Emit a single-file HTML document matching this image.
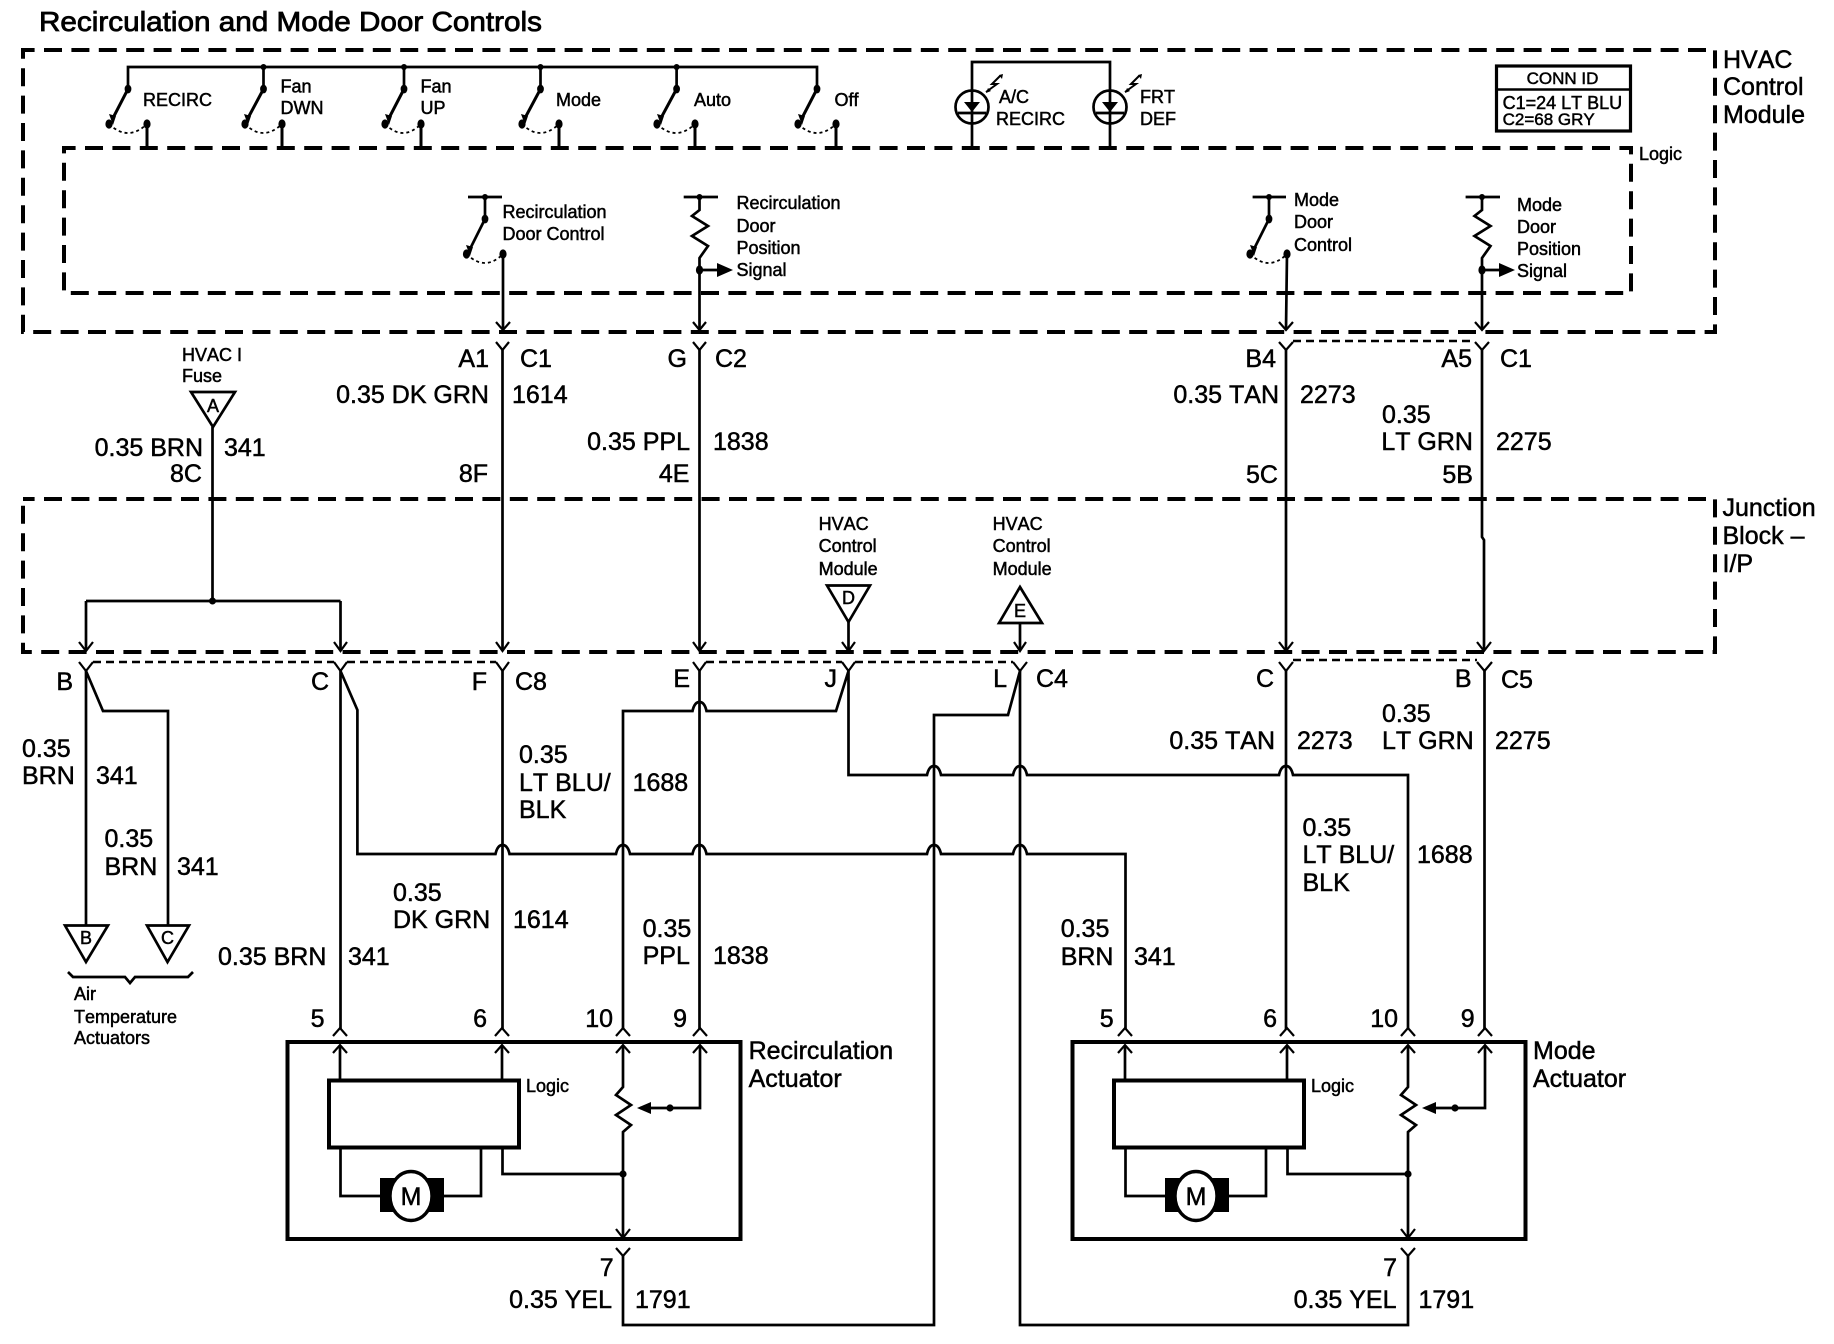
<!DOCTYPE html>
<html><head><meta charset="utf-8"><style>
html,body{margin:0;padding:0;background:#fff}
svg{display:block}
text{font-family:"Liberation Sans",sans-serif;fill:#000;stroke:#000;stroke-width:.5;font-kerning:none}
.t{font-size:25px}.s{font-size:18px}.e{text-anchor:end}.m{text-anchor:middle}
.w{fill:none;stroke:#000;stroke-width:2.7}
.c{fill:none;stroke:#000;stroke-width:2.2}
.d{fill:none;stroke:#000;stroke-width:4;stroke-dasharray:18 9.4;stroke-dashoffset:6.4}
.o{fill:none;stroke:#000;stroke-width:2.6;stroke-dasharray:8 5}
.a{fill:none;stroke:#000;stroke-width:1.8;stroke-dasharray:3 3}
.f{fill:#000;stroke:none}
</style></head><body>
<svg xmlns="http://www.w3.org/2000/svg" width="1834" height="1344" viewBox="0 0 1834 1344">
<rect width="1834" height="1344" fill="#fff" style="stroke:none"/>
<text x="39" y="31" style="font-size:28px;stroke-width:.8" textLength="503" lengthAdjust="spacingAndGlyphs">Recirculation and Mode Door Controls</text>

<!-- dashed boxes -->
<rect class="d" x="23" y="50" width="1692" height="282"/>
<rect class="d" x="64" y="148" width="1567" height="145"/>
<rect class="d" x="23" y="499" width="1692" height="153"/>
<text class="t" x="1723" y="68">HVAC</text><text class="t" x="1723" y="95">Control</text><text class="t" x="1723" y="123">Module</text>
<text class="s" x="1639" y="160">Logic</text>
<text class="t" x="1722.5" y="516">Junction</text><text class="t" x="1722.5" y="544">Block –</text><text class="t" x="1722.5" y="572">I/P</text>

<!-- switch bus -->
<path class="w" d="M128 89V67H817V89M263.5 67V89M404 67V89M540.5 67V89M676.6 67V89"/>
<!-- switches -->
<g id="sw">
<path class="w" style="stroke-width:3" d="M128 89L113 118M147 124V148M282 124V148"/>
<path class="w" style="stroke-width:3" d="M263.5 89L248 118M404 89L389 118M421 124V148M540.5 89L525 118M559 124V148M676.6 89L661 118M695 124V148M817 89L802 118M836 124V148"/>
<path class="f" d="M109 114l7 2-3 9zM244 114l7 2-3 9zM385 114l7 2-3 9zM521 114l7 2-3 9zM657 114l7 2-3 9zM798 114l7 2-3 9z"/>
<path class="a" d="M109 124Q128 142 147 124M245 124Q263 142 282 124M385 124Q403 142 421 124M522 124Q540 142 559 124M657 124Q676 142 695 124M798 124Q817 142 836 124"/>
<g class="f"><ellipse cx="128" cy="89" rx="3.4" ry="4.4"/><ellipse cx="263.5" cy="89" rx="3.4" ry="4.4"/><ellipse cx="404" cy="89" rx="3.4" ry="4.4"/><ellipse cx="540.5" cy="89" rx="3.4" ry="4.4"/><ellipse cx="676.6" cy="89" rx="3.4" ry="4.4"/><ellipse cx="817" cy="89" rx="3.4" ry="4.4"/>
<circle cx="263.5" cy="67" r="3"/><circle cx="404" cy="67" r="3"/><circle cx="540.5" cy="67" r="3"/><circle cx="676.6" cy="67" r="3"/>
<ellipse cx="109" cy="124" rx="3.6" ry="4.6"/><ellipse cx="147" cy="124" rx="3.6" ry="4.6"/><ellipse cx="245" cy="124" rx="3.6" ry="4.6"/><ellipse cx="282" cy="124" rx="3.6" ry="4.6"/><ellipse cx="385" cy="124" rx="3.6" ry="4.6"/><ellipse cx="421" cy="124" rx="3.6" ry="4.6"/><ellipse cx="522" cy="124" rx="3.6" ry="4.6"/><ellipse cx="559" cy="124" rx="3.6" ry="4.6"/><ellipse cx="657" cy="124" rx="3.6" ry="4.6"/><ellipse cx="695" cy="124" rx="3.6" ry="4.6"/><ellipse cx="798" cy="124" rx="3.6" ry="4.6"/><ellipse cx="836" cy="124" rx="3.6" ry="4.6"/></g>
</g>
<text class="s" x="143" y="106">RECIRC</text>
<text class="s" x="280.5" y="92.5">Fan</text><text class="s" x="280.5" y="114">DWN</text>
<text class="s" x="420.5" y="92.5">Fan</text><text class="s" x="420.5" y="114">UP</text>
<text class="s" x="556" y="106">Mode</text><text class="s" x="694" y="106">Auto</text><text class="s" x="834.5" y="106">Off</text>

<!-- LEDs -->
<path class="w" d="M972 148V62H1110V148"/>
<g fill="none" stroke="#000" stroke-width="2.7"><circle cx="972" cy="107" r="16.5"/><circle cx="1110" cy="107" r="16.5"/><path d="M958 113H986M1096 113H1124"/></g>
<path class="f" d="M964 102H980L972 112zM1102 102H1118L1110 112z"/>
<g fill="none" stroke="#000" stroke-width="2"><path d="M1000 76L992 84H997L986 92M1139 76L1131 84H1136L1125 92"/></g>
<path class="f" d="M999 75l4-1-1 5zM1138 75l4-1-1 5zM986 93l2-5 3 3zM1125 93l2-5 3 3z"/>
<text class="s" x="999" y="103">A/C</text><text class="s" x="996" y="125">RECIRC</text>
<text class="s" x="1140" y="103">FRT</text><text class="s" x="1140" y="125">DEF</text>

<!-- conn id -->
<rect x="1496.5" y="66" width="134" height="65" fill="none" stroke="#000" stroke-width="3.2"/>
<path d="M1496 89.5H1631" stroke="#000" stroke-width="2.4"/>
<text class="m" x="1562.5" y="84" style="font-size:17px">CONN ID</text>
<text class="s" x="1502.6" y="109">C1=24 LT BLU</text>
<text x="1502.6" y="125" style="font-size:17px">C2=68 GRY</text>

<!-- logic internals: recirc door control -->
<g id="ctl">
<path class="w" d="M468 197H502M485 197V219L470 249M503 254V329"/>
<path class="a" d="M466.5 254Q485 272 503 254"/>
<path class="f" d="M466 245l7 2-3 9z"/>
<g class="f"><circle cx="485" cy="197" r="3"/><ellipse cx="485" cy="219" rx="3.4" ry="4.4"/><ellipse cx="466.5" cy="254" rx="3.6" ry="4.6"/><ellipse cx="503" cy="254" rx="3.6" ry="4.6"/></g>
<path class="w" d="M1252.6 197H1286M1269 197V219L1254 249M1287 254L1286 329"/>
<path class="a" d="M1250 254Q1269 272 1287 254"/>
<path class="f" d="M1250 245l7 2-3 9z"/>
<g class="f"><circle cx="1269" cy="197" r="3"/><ellipse cx="1269" cy="219" rx="3.4" ry="4.4"/><ellipse cx="1250" cy="254" rx="3.6" ry="4.6"/><ellipse cx="1287" cy="254" rx="3.6" ry="4.6"/></g>
</g>
<text class="s" x="502.5" y="218">Recirculation</text><text class="s" x="502.5" y="240">Door Control</text>
<text class="s" x="1294" y="206">Mode</text><text class="s" x="1294" y="228">Door</text><text class="s" x="1294" y="251">Control</text>
<!-- resistors -->
<path class="w" d="M683.7 197H718M699.5 197V210L692 216L708 226L692 236L708 246L699.5 258V330M699.5 270H718"/>
<path class="f" d="M717 263L733 270L717 277z"/><circle class="f" cx="699.5" cy="197" r="3"/><ellipse class="f" cx="699.5" cy="270" rx="3.6" ry="4.6"/>
<path class="w" d="M1465.6 197H1500M1482 197V210L1474.5 216L1490.5 226L1474.5 236L1490.5 246L1482 258V330M1482 270H1500"/>
<path class="f" d="M1499 263L1515 270L1499 277z"/><circle class="f" cx="1482" cy="197" r="3"/><ellipse class="f" cx="1482" cy="270" rx="3.6" ry="4.6"/>
<text class="s" x="736.5" y="209">Recirculation</text><text class="s" x="736.5" y="232">Door</text><text class="s" x="736.5" y="254">Position</text><text class="s" x="736.5" y="276">Signal</text>
<text class="s" x="1517" y="211">Mode</text><text class="s" x="1517" y="233">Door</text><text class="s" x="1517" y="255">Position</text><text class="s" x="1517" y="277">Signal</text>

<!-- arrow chevrons pointing down -->
<path class="c" d="M496 322L503 330L510 322M693 322L699.5 330L706 322M1279 322L1286 330L1293 322M1475 322L1482 330L1489 322"/>
<path class="c" d="M79 642L86 651L93 642M334 642L340.5 651L347 642M496 642L502.5 651L509 642M693 642L699.5 651L706 642M842 642L848.5 651L855 642M1014 642L1020 651L1026 642M1279 642L1286 651L1293 642M1477 642L1484 651L1491 642"/>
<!-- Y chevrons (upper row) -->
<path class="c" d="M496 342L502.5 350L509 342M693 342L699.5 350L706 342M1279 342L1286 350L1293 342M1475 342L1482 350L1489 342"/>
<path class="o" d="M1293 341H1475"/>
<!-- Y chevrons (lower row) -->
<path class="c" d="M79 662L86 671L93 662M334 662L340.5 671L347 662M496 662L502.5 671L509 662M693 662L699.5 671L706 662M842 662L848.5 671L855 662M1013 662L1020 671L1027 662M1279 662L1286 671L1293 662M1477 662L1484.5 671L1492 662"/>
<path class="o" d="M93 662H334M347 662H496M706 662H842M855 662H1013M1293 660H1477"/>

<!-- vertical wires -->
<path class="w" d="M502.5 350V650M699.5 350V650M1286 350V650M1482 350V537L1484 540V650"/>
<path class="w" d="M212.5 427V601M86 601H340.5M86 601V650M340.5 601V650"/>
<circle class="f" cx="212.5" cy="601" r="3.5"/>
<path class="w" d="M848.5 622V650M1020 623V650"/>
<!-- triangles -->
<g fill="#fff" stroke="#000" stroke-width="2.7">
<path d="M191 392H235L213 427z"/><path d="M827 585.5H870L848.5 622z"/><path d="M1020 587L1042 623H999z"/>
<path d="M65 925.5H108L86 962z"/><path d="M147 925.5H189L167.5 962z"/>
</g>
<text class="s m" x="213" y="412">A</text><text class="s m" x="848.5" y="604">D</text><text class="s m" x="1020" y="617">E</text>
<text class="s m" x="86" y="944">B</text><text class="s m" x="167.5" y="944">C</text>
<path class="w" d="M68 972L73 977H125L130 983L135 977H188L193 972"/>
<text class="s" x="74" y="1000">Air</text><text class="s" x="74" y="1023">Temperature</text><text class="s" x="74" y="1044">Actuators</text>
<text class="s" x="182" y="361">HVAC I</text><text class="s" x="182" y="382">Fuse</text>
<text class="s" x="818.6" y="530">HVAC</text><text class="s" x="818.6" y="552">Control</text><text class="s" x="818.6" y="575">Module</text>
<text class="s" x="992.6" y="530">HVAC</text><text class="s" x="992.6" y="552">Control</text><text class="s" x="992.6" y="575">Module</text>

<!-- lower wiring -->
<path class="w" d="M86 671V925M86 671L103 711H168V925"/>
<path class="w" d="M340.5 671V1029M340.5 671L357.4 710V854H495.5Q497.5 845 502.5 845Q507.5 845 509.5 854H616Q618 845 623 845Q628 845 630 854H692.5Q694.5 845 699.5 845Q704.5 845 706.5 854H927Q929 845 934 845Q939 845 941 854H1013Q1015 845 1020 845Q1025 845 1027 854H1125.5V1029"/>
<path class="w" d="M502.5 671V1029M699.5 671V1029"/>
<path class="w" d="M623 1029V711H692.5Q694.5 702 699.5 702Q704.5 702 706.5 711H836L848.5 671V775H927Q929 766 934 766Q939 766 941 775H1013Q1015 766 1020 766Q1025 766 1027 775H1279Q1281 766 1286 766Q1291 766 1293 775H1408V1029"/>
<path class="w" d="M1020 671L1008 715H934V1325H623V1256"/>
<path class="w" d="M1020 671V1325H1408V1256"/>
<path class="w" d="M1286 671V1029M1484.5 671V1029"/>

<!-- recirc actuator graphics -->
<g id="act1">
<rect x="287.5" y="1042" width="453" height="197" fill="none" stroke="#000" stroke-width="4"/>
<rect x="329" y="1080.5" width="190" height="67" fill="none" stroke="#000" stroke-width="4"/>
<path class="c" d="M333 1036L340 1028L347 1036M495 1036L502 1028L509 1036M616 1036L623 1028L630 1036M693 1036L700 1028L707 1036"/>
<path class="c" d="M333 1053L340 1045L347 1053M495 1053L502 1045L509 1053M616 1053L623 1045L630 1053M693 1053L700 1045L707 1053"/>
<path class="w" d="M340 1045V1079M502 1045V1079M623 1045V1087L616 1095L631 1105L616 1115L631 1125L623 1132V1236M700 1045V1108H640M340.5 1148V1196H380M481 1148V1196H444M502.5 1148V1174H623"/>
<path class="c" d="M616 1229L623 1238L630 1229M616 1248L623 1256L630 1248"/>
<path class="f" d="M637 1108L651 1102V1114z"/>
<circle class="f" cx="670" cy="1108" r="3.6"/><circle class="f" cx="623" cy="1174" r="3.6"/>
<rect class="f" x="380" y="1178" width="64" height="34"/>
<ellipse cx="411" cy="1196" rx="21" ry="24.5" fill="#fff" stroke="#000" stroke-width="3.4"/>
<text class="t m" x="411" y="1205">M</text>
<text class="s" x="526" y="1092">Logic</text>
</g>
<!-- mode actuator graphics -->
<g transform="translate(785,0)">
<rect x="287.5" y="1042" width="453" height="197" fill="none" stroke="#000" stroke-width="4"/>
<rect x="329" y="1080.5" width="190" height="67" fill="none" stroke="#000" stroke-width="4"/>
<path class="c" d="M333 1036L340 1028L347 1036M495 1036L502 1028L509 1036M616 1036L623 1028L630 1036M693 1036L700 1028L707 1036"/>
<path class="c" d="M333 1053L340 1045L347 1053M495 1053L502 1045L509 1053M616 1053L623 1045L630 1053M693 1053L700 1045L707 1053"/>
<path class="w" d="M340 1045V1079M502 1045V1079M623 1045V1087L616 1095L631 1105L616 1115L631 1125L623 1132V1236M700 1045V1108H640M340.5 1148V1196H380M481 1148V1196H444M502.5 1148V1174H623"/>
<path class="c" d="M616 1229L623 1238L630 1229M616 1248L623 1256L630 1248"/>
<path class="f" d="M637 1108L651 1102V1114z"/>
<circle class="f" cx="670" cy="1108" r="3.6"/><circle class="f" cx="623" cy="1174" r="3.6"/>
<rect class="f" x="380" y="1178" width="64" height="34"/>
<ellipse cx="411" cy="1196" rx="21" ry="24.5" fill="#fff" stroke="#000" stroke-width="3.4"/>
<text class="t m" x="411" y="1205">M</text>
<text class="s" x="526" y="1092">Logic</text>
</g>

<!-- large labels -->
<g class="t">
<text class="t e" x="489" y="367">A1</text><text class="t" x="520" y="367">C1</text>
<text class="t e" x="687" y="367">G</text><text class="t" x="715" y="367">C2</text>
<text class="t e" x="1276" y="367">B4</text><text class="t e" x="1472" y="367">A5</text><text class="t" x="1500" y="367">C1</text>
<text class="t e" x="489" y="403">0.35 DK GRN</text><text class="t" x="512" y="403">1614</text>
<text class="t e" x="1279" y="403">0.35 TAN</text><text class="t" x="1300" y="403">2273</text>
<text class="t" x="1382" y="423">0.35</text><text class="t e" x="1473" y="450">LT GRN</text><text class="t" x="1496" y="450">2275</text>
<text class="t e" x="690" y="450">0.35 PPL</text><text class="t" x="713" y="450">1838</text>
<text class="t e" x="203" y="456">0.35 BRN</text><text class="t" x="224" y="456">341</text>
<text class="t e" x="202" y="482">8C</text><text class="t e" x="488" y="482">8F</text><text class="t e" x="689.5" y="482">4E</text>
<text class="t e" x="1278" y="483">5C</text><text class="t e" x="1473" y="483">5B</text>

<text class="t e" x="73" y="690">B</text><text class="t e" x="329" y="690">C</text><text class="t e" x="487" y="690">F</text><text class="t" x="515" y="690">C8</text>
<text class="t e" x="690" y="687">E</text><text class="t e" x="837" y="687">J</text><text class="t e" x="1007" y="687">L</text><text class="t" x="1036" y="687">C4</text>
<text class="t e" x="1274" y="687">C</text><text class="t e" x="1471.5" y="687">B</text><text class="t" x="1501" y="688">C5</text>

<text class="t" x="22" y="757">0.35</text><text class="t" x="22" y="784">BRN</text><text class="t" x="96" y="784">341</text>
<text class="t" x="104.5" y="847">0.35</text><text class="t" x="104.5" y="875">BRN</text><text class="t" x="177" y="875">341</text>
<text class="t" x="519" y="763">0.35</text><text class="t" x="519" y="791">LT BLU/</text><text class="t" x="519" y="818">BLK</text><text class="t" x="632.6" y="791">1688</text>
<text class="t" x="393" y="901">0.35</text><text class="t" x="393" y="928">DK GRN</text><text class="t" x="513" y="928">1614</text>
<text class="t" x="218" y="965">0.35 BRN</text><text class="t" x="348" y="965">341</text>
<text class="t" x="642.6" y="937">0.35</text><text class="t" x="642.6" y="964">PPL</text><text class="t" x="713" y="964">1838</text>
<text class="t" x="1060.7" y="937">0.35</text><text class="t" x="1060.7" y="965">BRN</text><text class="t" x="1134" y="965">341</text>
<text class="t" x="1382" y="722">0.35</text><text class="t" x="1382" y="749">LT GRN</text><text class="t" x="1495" y="749">2275</text>
<text class="t e" x="1275" y="749">0.35 TAN</text><text class="t" x="1297" y="749">2273</text>
<text class="t" x="1302.5" y="836">0.35</text><text class="t" x="1302.5" y="863">LT BLU/</text><text class="t" x="1302.5" y="891">BLK</text><text class="t" x="1417" y="863">1688</text>

<text class="t e" x="324.5" y="1027">5</text><text class="t e" x="487" y="1027">6</text><text class="t e" x="613" y="1027">10</text><text class="t e" x="687" y="1027">9</text>
<text class="t e" x="1113.7" y="1027">5</text><text class="t e" x="1277" y="1027">6</text><text class="t e" x="1398" y="1027">10</text><text class="t e" x="1474.6" y="1027">9</text>
<text class="t" x="748.6" y="1059">Recirculation</text><text class="t" x="748.6" y="1087">Actuator</text>
<text class="t" x="1533" y="1059">Mode</text><text class="t" x="1533" y="1087">Actuator</text>
<text class="t e" x="613.6" y="1276">7</text><text class="t e" x="612" y="1308">0.35 YEL</text><text class="t" x="635" y="1308">1791</text>
<text class="t e" x="1397" y="1276">7</text><text class="t e" x="1396.5" y="1308">0.35 YEL</text><text class="t" x="1418.5" y="1308">1791</text>
</g>
</svg>
</body></html>
